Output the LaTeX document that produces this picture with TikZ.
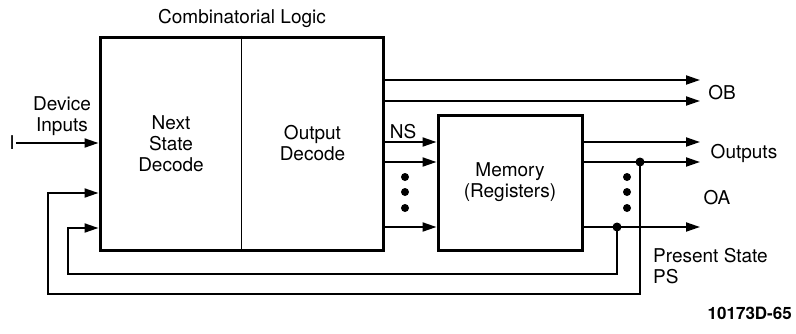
\documentclass[tikz,border=0pt]{standalone}
\usepackage{fontspec}
\setmainfont{TeX Gyre Heros}
\usetikzlibrary{positioning, arrows.meta}

\begin{document}
\begin{tikzpicture}[
    x=1pt, y=-1pt,
    font=\fontsize{19}{21}\selectfont,
    blk/.style={draw, line width=3pt, align=center, inner sep=0pt},
    arr/.style={-{Triangle[length=14pt, width=9pt]}, line width=2pt},
    lbl/.style={inner sep=1pt},
    txt/.style={align=center, inner sep=1pt},
    vdot/.style={circle, fill, inner sep=0pt, minimum size=8pt},
    jdot/.style={circle, fill, inner sep=0pt, minimum size=9pt}
]
\useasboundingbox (0,0) rectangle (796,333);

% combinatorial logic block
\node[blk, minimum width=283pt, minimum height=213pt] (cl) at (241.5,143.5) {};
\draw[line width=1.6pt] (cl.north) -- (cl.south);
\node[txt] (nsd) at (171,143.5) {Next\\State\\Decode};
\node[txt] (od) at (312.5,143.5) {Output\\Decode};
\node[txt, anchor=base] (comb) at (242,23) {Combinatorial Logic};

% memory block
\node[blk, minimum width=144pt, minimum height=135pt] (mem) at (510,182.5) {Memory\\(Registers)};

% levels
\coordinate (xe) at (700,0);
\coordinate (yb1) at (0,80);
\coordinate (yb2) at (0,101);
\coordinate (y1) at (0,142);
\coordinate (y2) at (0,162);
\coordinate (y3) at (0,227);
\coordinate (yf1) at (0,193);
\coordinate (yf2) at (0,228);
\coordinate (fb1) at (68,274);
\coordinate (fb2) at (48,294);

% device inputs
\node[txt] (din) at (62,116) {Device\\Inputs};
\node[txt] (in) at (12,143) {I};
\draw[arr] (in.east) -- (cl.west |- in);

% outputs OB
\draw[arr] (cl.east |- yb1) -- (xe |- yb1);
\draw[arr] (cl.east |- yb2) -- (xe |- yb2);
\node[lbl] (ob) at (722,93) {OB};

% next state lines
\draw[arr] (cl.east |- y1) -- (mem.west |- y1);
\draw[arr] (cl.east |- y2) -- (mem.west |- y2);
\draw[arr] (cl.east |- y3) -- (mem.west |- y3);
\node[lbl] (ns) at (403,132) {NS};
\foreach \y in {177,192,208}
    \node[vdot] (dl-\y) at (405,\y) {};

% memory outputs
\draw[arr] (mem.east |- y1) -- (xe |- y1);
\draw[arr] (mem.east |- y2) -- (xe |- y2);
\draw[arr] (mem.east |- y3) -- (xe |- y3);
\node[jdot] (ja) at (640,162) {};
\node[jdot] (jb) at (617,227) {};
\foreach \y in {177,192,208}
    \node[vdot] (dr-\y) at (627,\y) {};
\node[txt] (outs) at (744,153) {Outputs};
\node[lbl] (oa) at (717,198) {OA};
\node[lbl, align=left, anchor=west] (ps) at (652,266) {Present State\\PS};

% present state feedback
\draw[arr] (jb.center) |- (fb1) |- (cl.west |- yf2);
\draw[arr] (ja.center) |- (fb2) |- (cl.west |- yf1);

\node[lbl, font=\fontsize{17}{19}\selectfont\bfseries, anchor=east] (fig) at (793,313) {10173D-65};
\end{tikzpicture}
\end{document}
